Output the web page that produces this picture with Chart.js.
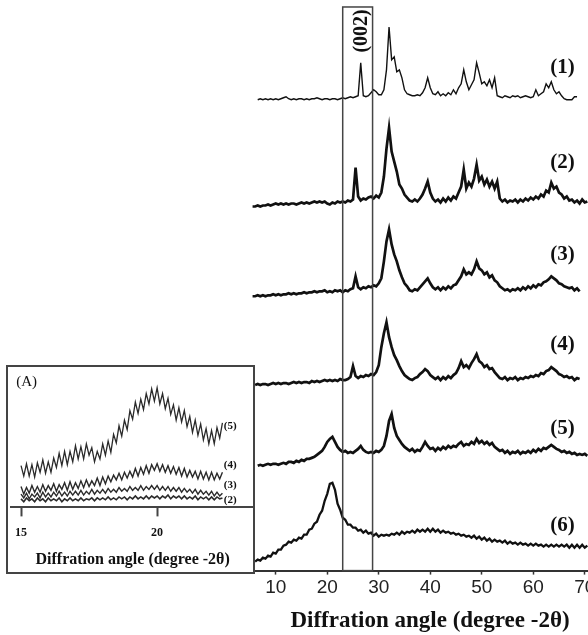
<!DOCTYPE html>
<html>
<head>
<meta charset="utf-8">
<script src="https://cdn.jsdelivr.net/npm/chart.js@4.4.1/dist/chart.umd.min.js"></script>
<style>
  html, body { margin: 0; padding: 0; background: #fff; overflow: hidden; }
  #main { position: absolute; left: 0; top: 0; }
  #inset { position: absolute; left: 6px; top: 365px; background: #fff; }
</style>
</head>
<body>
<canvas id="main" width="610" height="635"></canvas>
<canvas id="inset" width="249" height="209"></canvas>
<script>
// ---- main panel: diffraction angle grid (degree 2θ) ----
var angles = [
  5.5, 6, 6.5, 7, 7.5, 8, 8.5, 9, 9.5, 10,
  10.5, 11, 11.5, 12, 12.5, 13, 13.5, 14, 14.5, 15,
  15.5, 16, 16.5, 17, 17.5, 18, 18.5, 19, 19.5, 20,
  20.5, 21, 21.5, 22, 22.5, 23, 23.5, 24, 24.5, 25,
  25.5, 26, 26.5, 27, 27.5, 28, 28.5, 29, 29.5, 30,
  30.5, 31, 31.5, 32, 32.5, 33, 33.5, 34, 34.5, 35,
  35.5, 36, 36.5, 37, 37.5, 38, 38.5, 39, 39.5, 40,
  40.5, 41, 41.5, 42, 42.5, 43, 43.5, 44, 44.5, 45,
  45.5, 46, 46.5, 47, 47.5, 48, 48.5, 49, 49.5, 50,
  50.5, 51, 51.5, 52, 52.5, 53, 53.5, 54, 54.5, 55,
  55.5, 56, 56.5, 57, 57.5, 58, 58.5, 59, 59.5, 60,
  60.5, 61, 61.5, 62, 62.5, 63, 63.5, 64, 64.5, 65,
  65.5, 66, 66.5, 67, 67.5, 68, 68.5, 69, 69.5, 70,
  70.5
];

// intensities above each pattern's own baseline (arbitrary units)
var pattern1 = [
  null, null, 2, 3, 2, 3, 2, 3, 2, 3,
  2, 3, 4, 5, 3, 2, 3, 2, 3, 3,
  2, 3, 2, 3, 3, 4, 3, 2, 3, 3,
  2, 3, 3, 2, 3, 4, 3, 4, 5, 4,
  5, 6, 39, 6, 5, 6, 9, 12, 10, 7,
  7, 12, 32, 75, 42, 45, 30, 32, 24, 12,
  8, 7, 6, 6, 7, 6, 9, 14, 24, 14,
  8, 7, 10, 6, 8, 6, 9, 7, 12, 8,
  14, 18, 32, 20, 12, 17, 22, 39, 29, 18,
  20, 16, 22, 14, 24, 6, 5, 4, 6, 5,
  4, 6, 5, 6, 4, 5, 6, 5, 4, 5,
  12, 6, 8, 10, 18, 14, 20, 12, 8, 10,
  6, 3, 2, 2, 2, 5, 5, null, null, null,
  null
];
var pattern2 = [
  0, 0, 1, 0, 1, 1, 2, 1, 2, 3,
  2, 3, 2, 3, 2, 3, 3, 2, 3, 4,
  3, 4, 3, 4, 5, 4, 5, 4, 5, 3,
  2, 4, 3, 5, 4, 5, 4, 6, 5, 7,
  39, 10, 6, 8, 7, 9, 10, 8, 11, 9,
  14, 30, 58, 79, 55, 45, 35, 22, 18, 12,
  9, 6, 5, 7, 5, 8, 12, 18, 25, 14,
  8, 5, 7, 4, 8, 5, 9, 6, 10, 8,
  14, 20, 37, 18, 24, 20, 28, 42, 26, 30,
  22, 27, 20, 25, 18, 25, 8, 5, 7, 4,
  6, 5, 7, 4, 7, 5, 8, 6, 9, 7,
  10, 8, 12, 10, 16, 14, 24, 18, 20, 14,
  12, 8, 10, 6, 7, 4, 6, 3, 7, 4,
  5
];
var pattern3 = [
  0, 0, 1, 0, 1, 0, 1, 1, 2, 1,
  2, 1, 2, 2, 3, 2, 3, 2, 3, 3,
  4, 3, 4, 4, 5, 4, 5, 5, 6, 4,
  5, 4, 6, 5, 6, 4, 6, 5, 7, 8,
  20, 9, 7, 9, 8, 10, 9, 11, 10, 13,
  18, 35, 55, 67, 52, 42, 35, 26, 19, 13,
  10, 6, 5, 7, 6, 9, 12, 15, 18, 13,
  9, 7, 9, 6, 9, 7, 10, 8, 11, 12,
  16, 20, 27, 22, 24, 22, 27, 35, 28, 26,
  22, 24, 19, 21, 16, 14, 10, 8, 6, 7,
  5, 7, 6, 8, 6, 9, 7, 10, 8, 11,
  9, 12, 11, 14, 15, 17, 20, 18, 16, 13,
  12, 10, 9, 8, 9, 6, 8, 5, null, null,
  null
];
var pattern4 = [
  null, 0, 1, 0, 1, 1, 0, 1, 2, 1,
  2, 1, 2, 2, 1, 2, 3, 2, 3, 2,
  3, 3, 2, 4, 3, 4, 3, 4, 5, 4,
  5, 4, 5, 4, 6, 5, 5, 6, 8, 19,
  9, 7, 9, 8, 10, 9, 11, 10, 13, 20,
  38, 52, 63, 48, 38, 30, 25, 19, 14, 10,
  8, 6, 5, 7, 8, 11, 13, 16, 14, 10,
  8, 6, 8, 5, 8, 6, 9, 7, 10, 12,
  17, 24, 18, 20, 17, 22, 26, 31, 24, 22,
  18, 20, 16, 17, 13, 10, 7, 6, 8, 5,
  7, 6, 8, 5, 7, 6, 8, 7, 9, 8,
  10, 9, 12, 11, 14, 15, 18, 16, 14, 11,
  10, 8, 9, 7, 8, 5, 7, 6, null, null,
  null
];
var pattern5 = [
  null, null, 0, 1, 0, 1, 2, 1, 2, 2,
  1, 2, 3, 2, 4, 4, 3, 5, 4, 6,
  5, 7, 7, 8, 9, 11, 13, 15, 19, 24,
  27, 29, 24, 19, 16, 14, 15, 13, 14, 13,
  15, 17, 20, 16, 14, 13, 14, 13, 15, 14,
  16, 20, 30, 45, 52, 38, 30, 26, 22, 19,
  17, 15, 17, 14, 16, 15, 19, 24, 20, 17,
  18, 15, 18, 16, 19, 17, 20, 18, 20, 19,
  22, 24, 20, 22, 21, 24, 22, 27, 23, 25,
  22, 24, 21, 23, 19, 17, 15, 16, 13, 15,
  12, 14, 13, 15, 12, 14, 13, 15, 13, 16,
  14, 17, 15, 18, 17, 19, 21, 19, 17, 16,
  14, 15, 13, 14, 12, 13, 11, 12, 11, 12,
  10
];
var pattern6 = [
  null, 9, 11, 10, 13, 12, 15, 14, 18, 17,
  21, 21, 25, 26, 29, 28, 31, 30, 33, 32,
  36, 36, 41, 42, 47, 49, 56, 60, 70, 77,
  87, 88, 81, 67, 61, 53, 51, 46, 46, 43,
  43, 40, 41, 38, 40, 37, 38, 35, 37, 34,
  36, 35, 36, 35, 37, 36, 38, 36, 39, 37,
  39, 38, 40, 38, 41, 39, 41, 39, 42, 39,
  42, 39, 41, 38, 40, 38, 39, 37, 38, 36,
  37, 35, 36, 34, 35, 33, 35, 32, 34, 31,
  33, 30, 32, 29, 31, 29, 30, 28, 30, 27,
  29, 27, 28, 26, 28, 26, 27, 25, 27, 25,
  27, 25, 26, 24, 26, 24, 26, 24, 26, 24,
  26, 24, 26, 23, 26, 23, 26, 23, 26, 23,
  25
];

var patterns = [pattern1, pattern2, pattern3, pattern4, pattern5, pattern6];
var patternNames = ['(1)', '(2)', '(3)', '(4)', '(5)', '(6)'];
var patternOffsets = [470, 365, 275, 186, 105, 0];
var patternWidths = [1.4, 2.7, 2.7, 2.7, 2.7, 2.3];
var patternLabelLevels = [504, 409, 317, 227, 142, 45];
var patternLabelAngle = 65.7;
var xTicks = [10, 20, 30, 40, 50, 60, 70];
var boxRange = [23.0, 28.8];   // (002) window
var boxTop = 565;

// ---- inset (A): 15-22.4 degree ----
var insetAngles = [
  15.0, 15.1, 15.2, 15.3, 15.4, 15.5, 15.6, 15.7, 15.8, 15.9,
  16.0, 16.1, 16.2, 16.3, 16.4, 16.5, 16.6, 16.7, 16.8, 16.9,
  17.0, 17.1, 17.2, 17.3, 17.4, 17.5, 17.6, 17.7, 17.8, 17.9,
  18.0, 18.1, 18.2, 18.3, 18.4, 18.5, 18.6, 18.7, 18.8, 18.9,
  19.0, 19.1, 19.2, 19.3, 19.4, 19.5, 19.6, 19.7, 19.8, 19.9,
  20.0, 20.1, 20.2, 20.3, 20.4, 20.5, 20.6, 20.7, 20.8, 20.9,
  21.0, 21.1, 21.2, 21.3, 21.4, 21.5, 21.6, 21.7, 21.8, 21.9,
  22.0, 22.1, 22.2, 22.3, 22.4
];
var inset2 = [
  9, 6, 10, 7, 9, 6, 10, 7, 9, 6,
  10, 7, 9, 7, 10, 6, 9, 7, 10, 7,
  9, 7, 10, 7, 9, 8, 10, 7, 10, 8,
  10, 8, 11, 8, 10, 8, 11, 9, 11, 8,
  11, 9, 12, 9, 11, 9, 12, 9, 12, 10,
  12, 9, 12, 10, 13, 9, 12, 10, 12, 9,
  12, 9, 11, 9, 12, 8, 11, 9, 11, 8,
  11, 8, 11, 9, 10
];
var inset3 = [
  14, 10, 15, 9, 14, 11, 15, 10, 16, 11,
  15, 11, 16, 12, 17, 12, 16, 12, 17, 13,
  17, 13, 18, 13, 17, 14, 19, 14, 18, 15,
  19, 15, 20, 16, 19, 16, 21, 17, 20, 17,
  22, 18, 21, 18, 23, 18, 22, 19, 23, 19,
  23, 18, 22, 18, 22, 17, 21, 17, 21, 16,
  20, 16, 19, 15, 19, 14, 18, 14, 17, 13,
  17, 12, 16, 12, 15
];
var inset4 = [
  22, 14, 21, 15, 23, 16, 22, 16, 24, 17,
  23, 18, 25, 17, 24, 19, 26, 18, 27, 19,
  26, 20, 28, 21, 29, 22, 28, 23, 31, 23,
  32, 25, 33, 27, 34, 29, 36, 29, 37, 31,
  38, 32, 41, 33, 42, 35, 44, 36, 45, 39,
  46, 38, 45, 37, 44, 36, 43, 35, 42, 33,
  41, 32, 39, 32, 38, 30, 38, 30, 37, 29,
  37, 29, 36, 30, 37
];
var inset5 = [
  44, 33, 46, 33, 45, 32, 47, 37, 50, 36,
  48, 37, 52, 42, 57, 44, 59, 45, 59, 48,
  65, 51, 64, 51, 67, 55, 63, 48, 59, 51,
  67, 55, 70, 58, 77, 68, 86, 75, 92, 82,
  102, 93, 111, 99, 114, 103, 120, 109, 125, 112,
  126, 109, 120, 104, 115, 98, 108, 92, 105, 90,
  102, 85, 96, 79, 92, 76, 88, 71, 83, 67,
  81, 67, 84, 73, 89
];
var insetSeries = [inset2, inset3, inset4, inset5];
var insetNames = ['(2)', '(3)', '(4)', '(5)'];
var insetWidths = [1.6, 1.4, 1.4, 1.3];
var insetLabelLevels = [8, 23, 45, 86];
var insetLabelAngle = 22.45;
var insetTicks = [15, 20];

var SERIF = "'Liberation Serif', 'Times New Roman', serif";
var SANS = "'Liberation Sans', Arial, sans-serif";
var INK = '#111';
var AXIS = '#333';
var TITLE = 'Diffration angle (degree -2\u03b8)';

function toPoints(xs, ys, offset) {
    var pts = [];
    for (var i = 0; i < xs.length; i++) {
        if (ys[i] === null || ys[i] === undefined) continue;
        pts.push({x: xs[i], y: ys[i] + offset});
    }
    return pts;
}

function fixedTicks(values) {
    return function(axis) {
        axis.ticks = values.map(function(v) { return {value: v}; });
    };
}

function drawText(ctx, text, x, y, font, align) {
    ctx.font = font;
    ctx.fillStyle = INK;
    ctx.textAlign = align || 'center';
    ctx.textBaseline = 'middle';
    ctx.fillText(text, x, y);
}

var mainOverlay = {
    id: 'mainOverlay',
    afterDatasetsDraw: function(chart) {
        var ctx = chart.ctx, xs = chart.scales.x, ys = chart.scales.y;
        var left = xs.getPixelForValue(boxRange[0]);
        var right = xs.getPixelForValue(boxRange[1]);
        var top = ys.getPixelForValue(boxTop);
        var bottom = chart.chartArea.bottom;

        ctx.save();
        ctx.strokeStyle = '#444';
        ctx.lineWidth = 1.5;
        ctx.strokeRect(left, top, right - left, bottom - top);

        ctx.save();
        ctx.translate((left + right) / 2 + 4, ys.getPixelForValue(541));
        ctx.rotate(-Math.PI / 2);
        drawText(ctx, '(002)', 0, 0, 'bold 20px ' + SERIF);
        ctx.restore();

        patternNames.forEach(function(name, i) {
            drawText(ctx, name, xs.getPixelForValue(patternLabelAngle),
                ys.getPixelForValue(patternLabelLevels[i]), 'bold 21px ' + SERIF);
        });
        ctx.restore();
    }
};

var insetOverlay = {
    id: 'insetOverlay',
    afterDraw: function(chart) {
        var ctx = chart.ctx, xs = chart.scales.x, ys = chart.scales.y;
        ctx.save();
        insetNames.forEach(function(name, i) {
            drawText(ctx, name, xs.getPixelForValue(insetLabelAngle),
                ys.getPixelForValue(insetLabelLevels[i]), 'bold 11px ' + SERIF, 'left');
        });
        drawText(ctx, '(A)', chart.chartArea.left + 5, chart.chartArea.top + 16, '15px ' + SERIF, 'left');
        // frame round the inset
        ctx.strokeStyle = '#444';
        ctx.lineWidth = 2;
        ctx.strokeRect(1, 1, chart.width - 2, chart.height - 2);
        ctx.restore();
    }
};

new Chart(document.getElementById('main'), {
    type: 'line',
    data: {
        datasets: patterns.map(function(p, i) {
            return {
                label: patternNames[i],
                data: toPoints(angles, p, patternOffsets[i]),
                borderColor: INK,
                borderWidth: patternWidths[i],
                borderJoinStyle: 'miter',
                pointRadius: 0,
                tension: 0,
                fill: false
            };
        })
    },
    options: {
        responsive: false,
        animation: false,
        devicePixelRatio: 1,
        layout: {padding: {left: 250, right: 0, top: 0, bottom: 0}},
        plugins: {legend: {display: false}, tooltip: {enabled: false}},
        scales: {
            x: {
                type: 'linear',
                min: 5,
                max: 74.9,
                afterBuildTicks: fixedTicks(xTicks),
                grid: {drawOnChartArea: false, drawTicks: true, tickLength: 4, tickWidth: 1.5, tickColor: AXIS},
                border: {display: true, color: AXIS, width: 2},
                ticks: {font: {family: SANS, size: 19}, color: '#222', padding: 2, maxRotation: 0, autoSkip: false},
                title: {display: true, text: TITLE, color: INK,
                        font: {family: SERIF, size: 23, weight: 'bold'}, padding: {top: 6, bottom: 0}}
            },
            y: {type: 'linear', min: 0, max: 572, display: false}
        }
    },
    plugins: [mainOverlay]
});

new Chart(document.getElementById('inset'), {
    type: 'line',
    data: {
        datasets: insetSeries.map(function(s, i) {
            return {
                label: insetNames[i],
                data: toPoints(insetAngles, s, 0),
                borderColor: '#2a2a2a',
                borderWidth: insetWidths[i],
                pointRadius: 0,
                tension: 0,
                fill: false
            };
        })
    },
    options: {
        responsive: false,
        animation: false,
        devicePixelRatio: 1,
        layout: {padding: {left: 1, right: 1, top: 1, bottom: 5}},
        plugins: {legend: {display: false}, tooltip: {enabled: false}},
        scales: {
            x: {
                type: 'linear',
                min: 14.64,
                max: 23.56,
                afterBuildTicks: fixedTicks(insetTicks),
                grid: {drawOnChartArea: false, drawTicks: true, tickLength: 9, tickWidth: 2, tickColor: '#444'},
                border: {display: true, color: '#444', width: 2},
                ticks: {font: {family: SERIF, size: 12, weight: 'bold'}, color: INK, padding: 9, maxRotation: 0, autoSkip: false},
                title: {display: true, text: TITLE, color: INK,
                        font: {family: SERIF, size: 16, weight: 'bold'}, padding: {top: 1, bottom: 0}}
            },
            y: {type: 'linear', min: 0, max: 149, display: false}
        }
    },
    plugins: [insetOverlay]
});
</script>
</body>
</html>
